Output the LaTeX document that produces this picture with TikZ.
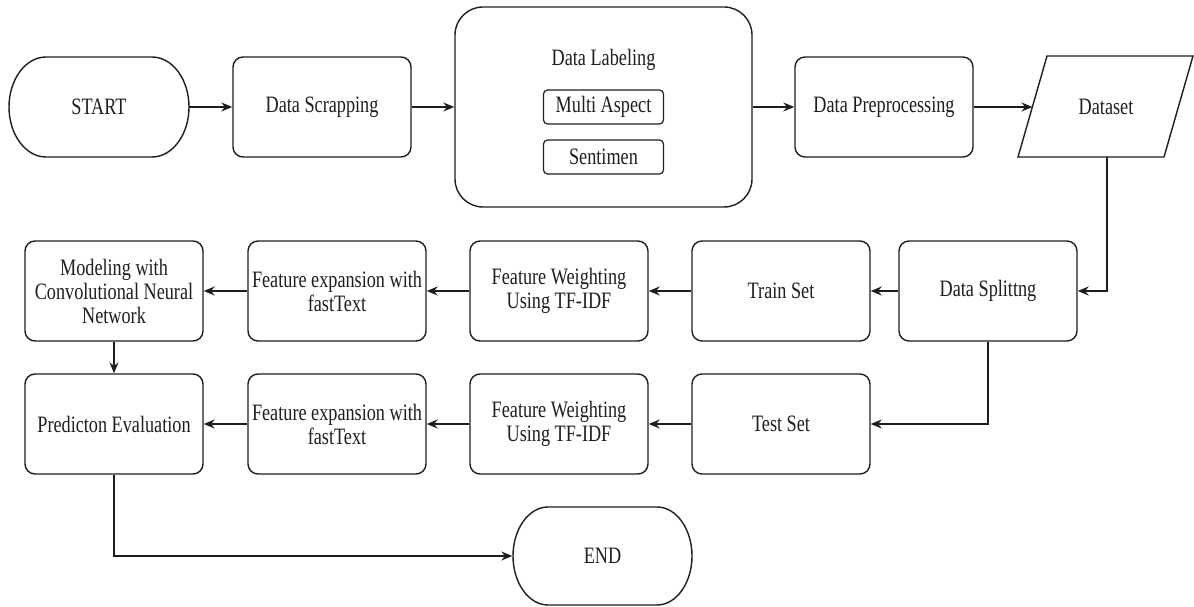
\documentclass[tikz,border=0pt]{standalone}
\usepackage{fontspec}
\setmainfont{Liberation Serif}[FakeStretch=0.775]
\usetikzlibrary{arrows.meta}
\definecolor{ink}{HTML}{1E1E1E}
\begin{document}
\begin{tikzpicture}[x=1pt,y=-1pt, line width=1.4pt, draw=ink, text=ink,
  txt/.style={font=\fontsize{23.5}{24}\selectfont, align=center, inner sep=0pt},
  box/.style={txt, draw, rounded corners=10pt, minimum width=178pt, minimum height=100pt},
  bigbox/.style={draw, rounded corners=28pt, minimum width=297pt, minimum height=200pt, inner sep=0pt},
  smallbox/.style={txt, draw, line width=1.2pt, rounded corners=4pt, minimum width=120pt, minimum height=34pt},
  term/.style={txt, minimum width=179pt, minimum height=100pt},
  arr/.style={draw=ink, -{Stealth[length=11pt,width=9pt]}}]
\useasboundingbox (0,0) rectangle (1194,607);

% row 1
\node[term] (start) at (99,107) {START};
\draw (46,57) -- (152,57) .. controls (172.4,57) and (189,79.4) .. (189,107)
  .. controls (189,134.6) and (172.4,157) .. (152,157) -- (46,157)
  .. controls (25.6,157) and (9,134.6) .. (9,107)
  .. controls (9,79.4) and (25.6,57) .. (46,57) -- cycle;
\node[box] (scrap) at (322,107) {Data Scrapping};
\node[bigbox] (label) at (603.5,107) {};
\node[txt] (labtxt) at (603.5,60) {Data Labeling};
\node[smallbox] (multi) at (603.5,107) {Multi Aspect};
\node[smallbox] (senti) at (603.5,157) {Sentimen};
\node[box] (pre) at (884,107) {Data Preprocessing};
\node[txt] (ds) at (1106,107) {Dataset};
\draw (1047,56) -- (1193,56) -- (1164,157) -- (1018,157) -- cycle;
\coordinate (dsin) at (1032.5,107);
\coordinate (dsb) at (1107,157);

% row 2
\node[box] (split) at (988,291) {Data Splittng};
\node[box] (train) at (781,291) {Train Set};
\node[box] (fw1) at (559,291) {Feature Weighting\\Using TF-IDF};
\node[box] (fe1) at (337,291) {Feature expansion with\\fastText};
\node[box] (model) at (114,291) {Modeling with\\Convolutional Neural\\Network};

% row 3
\node[box] (test) at (781,424) {Test Set};
\node[box] (fw2) at (559,424) {Feature Weighting\\Using TF-IDF};
\node[box] (fe2) at (337,424) {Feature expansion with\\fastText};
\node[box] (pred) at (114,424) {Predicton Evaluation};

% end
\node[term] (end) at (602.5,556) {END};
\draw (548,507) -- (657,507) .. controls (676.3,507) and (692,529) .. (692,556)
  .. controls (692,583) and (676.3,605) .. (657,605) -- (548,605)
  .. controls (528.7,605) and (513,583) .. (513,556)
  .. controls (513,529) and (528.7,507) .. (548,507) -- cycle;

% connectors
\draw[arr] (start) -- (scrap);
\draw[arr] (scrap) -- (label);
\draw[arr] (label) -- (pre);
\draw[arr] (pre) -- (dsin);
\draw[arr] (dsb) |- (split);
\draw[arr] (split) -- (train);
\draw[arr] (train) -- (fw1);
\draw[arr] (fw1) -- (fe1);
\draw[arr] (fe1) -- (model);
\draw[arr] (model) -- (pred);
\draw[arr] (split.south) |- (test);
\draw[arr] (test) -- (fw2);
\draw[arr] (fw2) -- (fe2);
\draw[arr] (fe2) -- (pred);
\draw[arr] (pred.south) |- (end);
\end{tikzpicture}
\end{document}
